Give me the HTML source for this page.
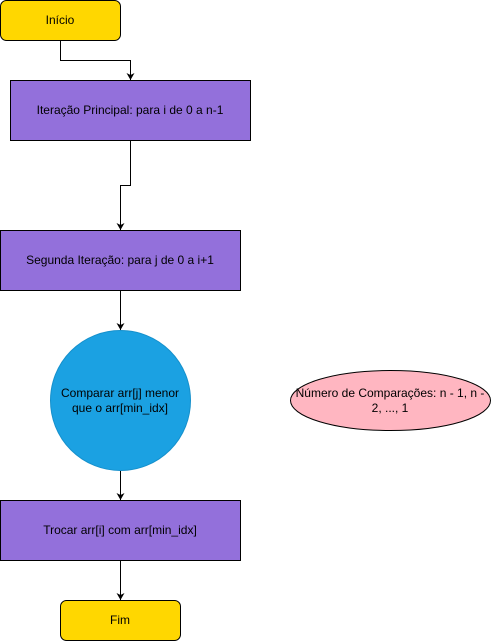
<!DOCTYPE html>
<html><head><meta charset="utf-8"><style>
html,body{margin:0;padding:0;background:#fff;width:491px;height:641px;overflow:hidden}
svg text{font-family:"Liberation Sans",Arial,sans-serif;font-size:12px;fill:#000}
</style></head><body>
<svg width="491" height="641" viewBox="0 0 491 641" xmlns="http://www.w3.org/2000/svg">
<defs><marker id="a" markerWidth="8" markerHeight="8" refX="7" refY="4" orient="auto" markerUnits="userSpaceOnUse"><path d="M0,0 L7,4 L0,8 L2,4 Z" fill="#000"/></marker></defs>
<g stroke="#000" fill="none" stroke-width="1">
<path d="M60.5,40 V60.5 H130.5 V80" marker-end="url(#a)"/>
<path d="M130.5,140 V185.5 H120.5 V230" marker-end="url(#a)"/>
<path d="M120.5,290 V330" marker-end="url(#a)"/>
<path d="M120.5,470 V500" marker-end="url(#a)"/>
<path d="M120.5,560 V600" marker-end="url(#a)"/>
</g>
<rect x="0.5" y="0.5" width="120" height="40" rx="6" fill="#FFD700" stroke="#000"/>
<text x="60" y="24" text-anchor="middle">Início</text>
<rect x="10.5" y="80.5" width="240" height="60" fill="#9370DB" stroke="#000"/>
<text x="130" y="114" text-anchor="middle">Iteração Principal: para i de 0 a n-1</text>
<rect x="0.5" y="230.5" width="240" height="60" fill="#9370DB" stroke="#000"/>
<text x="120" y="264" text-anchor="middle">Segunda Iteração: para j de 0 a i+1</text>
<circle cx="120.5" cy="400.5" r="70" fill="#1BA1E2" stroke="#1590CC"/>
<text x="120" y="397" text-anchor="middle">Comparar arr[j] menor</text>
<text x="120" y="412" text-anchor="middle">que o arr[min_idx]</text>
<ellipse cx="390.5" cy="400.5" rx="100" ry="30" fill="#FFB6C1" stroke="#000"/>
<text x="390" y="397" text-anchor="middle">Número de Comparações: n - 1, n -</text>
<text x="390" y="412" text-anchor="middle">2, ..., 1</text>
<rect x="0.5" y="500.5" width="240" height="60" fill="#9370DB" stroke="#000"/>
<text x="120" y="534" text-anchor="middle">Trocar arr[i] com arr[min_idx]</text>
<rect x="60.5" y="600.5" width="120" height="40" rx="6" fill="#FFD700" stroke="#000"/>
<text x="120" y="624" text-anchor="middle">Fim</text>
</svg>
</body></html>
